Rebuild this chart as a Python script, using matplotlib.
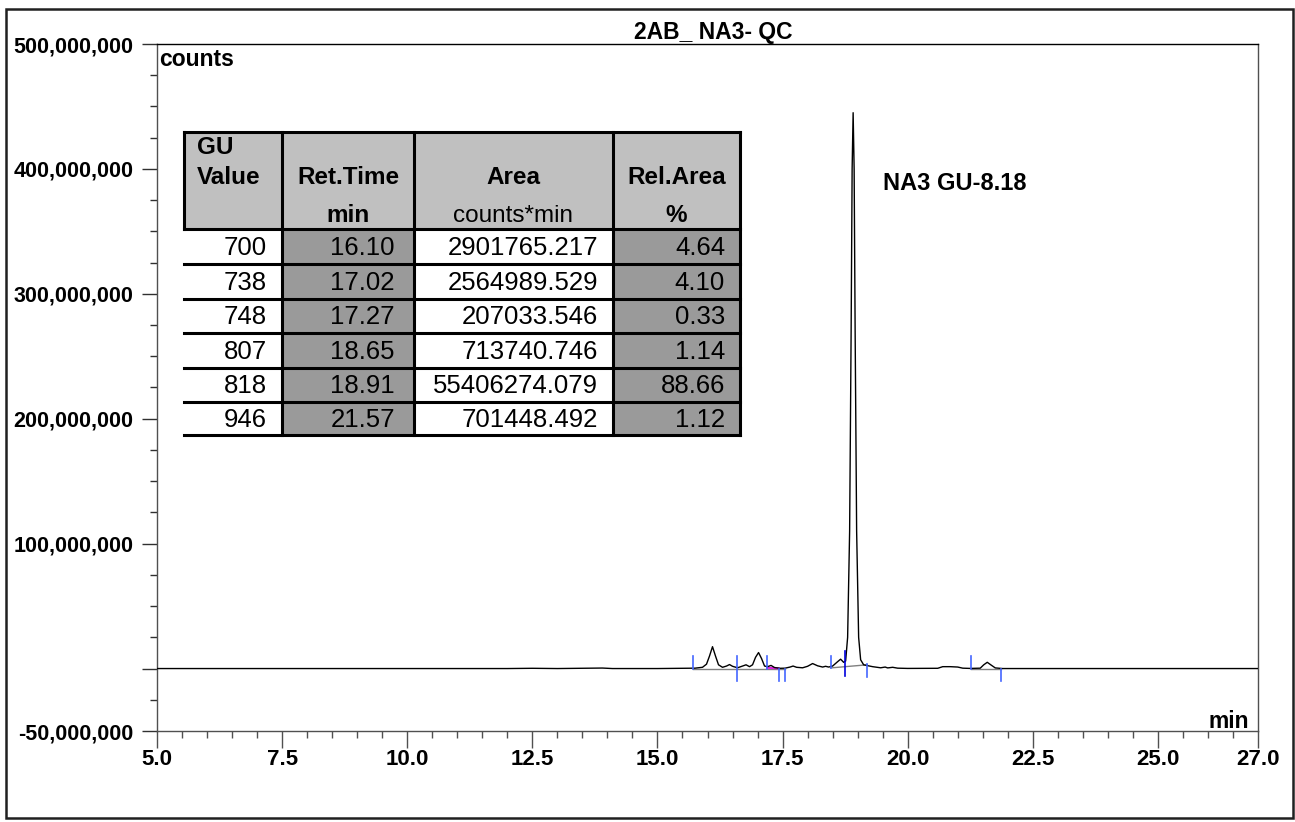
import matplotlib
matplotlib.use("Agg")
import matplotlib.pyplot as plt
from matplotlib.patches import Rectangle
from matplotlib.lines import Line2D
from matplotlib.ticker import FixedLocator, MultipleLocator, FuncFormatter

plt.rcParams['font.family'] = ['Liberation Sans', 'DejaVu Sans']

# ---------------- data ----------------
title = "2AB_ NA3- QC"
peak_label = "NA3 GU-8.18"

# chromatogram trace (minutes, million counts)
trace_time = [5.0, 12.0, 12.5, 13.0, 13.9, 14.1, 15.0, 15.5, 15.75, 15.9, 15.98, 16.04,
              16.10, 16.16, 16.22, 16.30, 16.38, 16.44, 16.50, 16.60, 16.70, 16.77, 16.84,
              16.90, 16.96, 17.02, 17.08, 17.14, 17.20, 17.27, 17.34, 17.45, 17.55, 17.65,
              17.71, 17.78, 17.90, 18.00, 18.10, 18.20, 18.30, 18.36, 18.42, 18.50, 18.60,
              18.66, 18.72, 18.76, 18.80, 18.84, 18.87, 18.89, 18.91, 18.93, 18.95, 18.98,
              19.02, 19.06, 19.12, 19.20, 19.30, 19.46, 19.55, 19.60, 19.70, 19.80, 20.00,
              20.60, 20.70, 20.85, 21.00, 21.10, 21.25, 21.45, 21.52, 21.59, 21.66, 21.75,
              21.90, 27.0]
trace_signal = [0.0, 0.0, 0.2, 0.0, 0.4, 0.0, 0.0, 0.2, 0.3, 1.0, 3.5, 10.0,
                17.5, 10.0, 3.0, 1.0, 2.0, 3.2, 1.8, 0.6, 2.0, 3.0, 1.5,
                3.0, 9.0, 12.8, 8.0, 2.0, 1.5, 2.5, 0.8, 0.2, 0.3, 1.2,
                2.0, 1.0, 0.6, 1.8, 4.0, 2.2, 1.2, 1.8, 1.2, 2.0, 5.5,
                7.5, 5.0, 6.0, 25.0, 110.0, 270.0, 400.0, 445.0, 400.0, 270.0, 110.0,
                25.0, 7.0, 3.0, 2.3, 1.5, 0.6, 1.2, 0.5, 1.0, 0.3, 0.1,
                0.2, 1.5, 1.5, 1.2, 0.3, 0.1, 0.3, 3.0, 5.0, 3.0, 0.5,
                0.0, 0.0]

# peak start/end markers (minutes, low / high in million counts)
marker_time = [15.71, 16.59, 17.19, 17.42, 17.55, 18.46, 18.74, 19.19, 21.27, 21.87]
marker_lo = [0.0, -10.0, 0.0, -10.0, -10.0, 0.5, -6.0, -7.0, 0.0, -10.0]
marker_hi = [10.0, 10.0, 10.0, 0.0, 0.0, 10.0, 14.0, 4.0, 10.0, 0.0]
marker_dark = [False, False, False, False, False, False, True, False, False, False]

# integration baselines (start time, start value, end time, end value)
base_t0 = [15.71, 18.46, 21.27]
base_y0 = [0.0, 0.5, 0.0]
base_t1 = [17.55, 19.19, 21.87]
base_y1 = [0.0, 3.0, 0.0]

# axis ticks
x_major = [5.0, 7.5, 10.0, 12.5, 15.0, 17.5, 20.0, 22.5, 25.0, 27.0]
y_major = [-50e6, 0, 100e6, 200e6, 300e6, 400e6, 500e6]

# table
col_headers_top = ["GU\nValue", "Ret.Time", "Area", "Rel.Area"]
col_headers_unit = ["", "min", "counts*min", "%"]
gu_values = ["700", "738", "748", "807", "818", "946"]
ret_times = ["16.10", "17.02", "17.27", "18.65", "18.91", "21.57"]
areas = ["2901765.217", "2564989.529", "207033.546", "713740.746", "55406274.079", "701448.492"]
rel_areas = ["4.64", "4.10", "0.33", "1.14", "88.66", "1.12"]

# ---------------- figure ----------------
W, H = 1295, 822
fig = plt.figure(figsize=(W / 100, H / 100), dpi=100)

def fx(x):
    return x / W

def fy(y):
    return 1 - y / H

ax = fig.add_axes([fx(157), fy(731), fx(1258) - fx(157), fy(44) - fy(731)])
ax.set_xlim(5.0, 27.0)
ax.set_ylim(-50e6, 500e6)

ax.plot(trace_time, [v * 1e6 for v in trace_signal], color='black', lw=1.0, zorder=3)

for t0, y0, t1, y1 in zip(base_t0, base_y0, base_t1, base_y1):
    ax.plot([t0, t1], [y0 * 1e6, y1 * 1e6], color='#808080', lw=1.0, zorder=2)
ax.plot([17.19, 17.42], [0.6e6, 0.2e6], color='#e020e0', lw=1.5, zorder=2)

for t, lo, hi, dk in zip(marker_time, marker_lo, marker_hi, marker_dark):
    ax.plot([t, t], [lo * 1e6, hi * 1e6], color='#0000dd' if dk else '#4466ff', lw=1.2, zorder=4)

for s in ax.spines.values():
    s.set_color('#505050')
    s.set_linewidth(1.0)
ax.spines['top'].set_color('black')

ax.xaxis.set_major_locator(FixedLocator(x_major))
ax.xaxis.set_minor_locator(MultipleLocator(0.5))
ax.xaxis.set_major_formatter(FuncFormatter(lambda v, p: f"{v:.1f}"))
ax.yaxis.set_major_locator(FixedLocator(y_major))
ax.yaxis.set_minor_locator(MultipleLocator(25e6))
ax.yaxis.set_major_formatter(FuncFormatter(lambda v, p: "" if abs(v) < 1 else f"{int(round(v)):,}"))

ax.tick_params(axis='x', which='major', direction='out', length=12, width=1, color='#505050',
               labelsize=16, pad=1)
ax.tick_params(axis='x', which='minor', direction='out', length=5, width=1, color='#505050')
ax.tick_params(axis='y', which='major', direction='out', length=11, width=1, color='#303030',
               labelsize=15.5, pad=6)
ax.tick_params(axis='y', which='minor', direction='out', length=5, width=1, color='#303030')
for lab in ax.get_xticklabels() + ax.get_yticklabels():
    lab.set_fontweight('bold')

ax.text(0.002, 0.977, "counts", transform=ax.transAxes, ha='left', va='center',
        fontsize=16.5, fontweight='bold')
ax.text(0.9915, 0.005, "min", transform=ax.transAxes, ha='right', va='baseline',
        fontsize=16.5, fontweight='bold')

fig.text(fx(713), fy(32), title, ha='center', va='center', fontsize=16.5, fontweight='bold')
fig.text(fx(883), fy(183), peak_label, ha='left', va='center', fontsize=17, fontweight='bold')

# outer frame
fig.add_artist(Rectangle((fx(6), fy(818)), fx(1293) - fx(6), fy(9) - fy(818),
                         transform=fig.transFigure, fill=False, ec='#202020', lw=1.8))

# ---------------- table ----------------
cols = [184, 282, 414, 613, 740]
rows = [132, 229, 264, 299, 333, 368, 402, 435]
light = '#c0c0c0'
dark = '#9a9a9a'
data_fill = ['white', dark, 'white', dark]

def rect(x0, y0, x1, y1, color):
    fig.add_artist(Rectangle((fx(x0), fy(y1)), fx(x1) - fx(x0), fy(y0) - fy(y1),
                             transform=fig.transFigure, fc=color, ec='none', zorder=5))

def line(x0, y0, x1, y1, lw=2.2):
    fig.add_artist(Line2D([fx(x0), fx(x1)], [fy(y0), fy(y1)], transform=fig.transFigure,
                          color='black', lw=lw, zorder=6, solid_capstyle='projecting'))

rect(cols[0], rows[0], cols[-1], rows[1], light)
for c in range(4):
    rect(cols[c], rows[1], cols[c + 1], rows[-1], data_fill[c])

# borders
line(cols[0], rows[0], cols[-1], rows[0])
line(cols[0], rows[0], cols[0], rows[1])
for r in rows[1:]:
    line(cols[0], r, cols[-1], r)
for c in cols[1:]:
    line(c, rows[0], c, rows[-1])

# header texts
fig.text(fx(197), fy(148), "GU", ha='left', va='center', fontsize=17.5,
         fontweight='bold', zorder=7)
fig.text(fx(197), fy(177), "Value", ha='left', va='center', fontsize=17.5,
         fontweight='bold', zorder=7)
for c in range(1, 4):
    xc = (cols[c] + cols[c + 1]) / 2
    fig.text(fx(xc), fy(177), col_headers_top[c], ha='center', va='center', fontsize=17.5,
             fontweight='bold', zorder=7)
    fig.text(fx(xc), fy(216), col_headers_unit[c], ha='center', va='center',
             fontsize=17.5,
             fontweight='normal' if c == 2 else 'bold', zorder=7)

pads = [15, 19, 15, 15]
table_cols = [gu_values, ret_times, areas, rel_areas]
for c, vals in enumerate(table_cols):
    for r, v in enumerate(vals):
        yc = (rows[r + 1] + rows[r + 2]) / 2
        fig.text(fx(cols[c + 1] - pads[c]), fy(yc + 1), v, ha='right', va='center',
                 fontsize=18.5, zorder=7)

fig.savefig("out.png", dpi=100)
